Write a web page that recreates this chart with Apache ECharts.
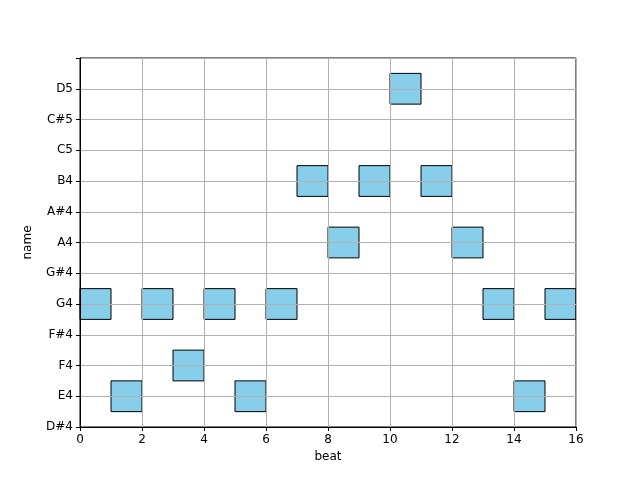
<!DOCTYPE html>
<html><head><meta charset="utf-8">
<script src="https://cdn.jsdelivr.net/npm/echarts@6/dist/echarts.min.js"></script>
<style>html,body{margin:0;padding:0;background:#fff}#c{width:640px;height:480px}</style>
</head><body><div id="c"></div>
<script>
const pitchNames = ['D#4','E4','F4','F#4','G4','G#4','A4','A#4','B4','C5','C#5','D5'];
const beats = [0,1,2,3,4,5,6,7,8,9,10,11,12,13,14,15];
const notes = ['G4','E4','G4','F4','G4','E4','G4','B4','A4','B4','D5','B4','A4','G4','E4','G4'];
const durations = [1,1,1,1,1,1,1,1,1,1,1,1,1,1,1,1];

const data = beats.map((b,i)=>[b, pitchNames.indexOf(notes[i]), durations[i]]);
const chart = echarts.init(document.getElementById('c'));
const font = 'DejaVu Sans';
chart.setOption({
  animation:false,
  grid:{left:80,right:64,top:58,bottom:53,show:true,borderColor:'#000',borderWidth:1,z:5},
  xAxis:{type:'value',min:0,max:16,interval:2,z:5,
    name:'beat',nameLocation:'middle',nameGap:24,nameTextStyle:{color:'#000',fontSize:12,fontFamily:font},
    axisLine:{lineStyle:{color:'#000'}},axisTick:{show:true,length:4,lineStyle:{color:'#000'}},
    axisLabel:{color:'#000',fontSize:12,fontFamily:font,margin:7},
    splitLine:{show:true,lineStyle:{color:'#b0b0b0',width:1}}},
  yAxis:{type:'value',min:0,max:12,interval:1,z:5,
    name:'name',nameLocation:'middle',nameGap:46,nameRotate:90,nameTextStyle:{color:'#000',fontSize:12,fontFamily:font},
    axisLine:{show:true,lineStyle:{color:'#000'}},axisTick:{show:true,length:4,lineStyle:{color:'#000'}},
    axisLabel:{color:'#000',fontSize:12,fontFamily:font,margin:7,formatter:v=>pitchNames[v]||''},
    splitLine:{show:true,lineStyle:{color:'#b0b0b0',width:1}}},
  series:[{type:'custom',z:2,data:data,
    renderItem:(params,api)=>{
      const x=api.value(0),y=api.value(1),d=api.value(2);
      const p1=api.coord([x,y+0.5]),p2=api.coord([x+d,y-0.5]);
      return {type:'rect',shape:{x:p1[0],y:p1[1],width:p2[0]-p1[0],height:p2[1]-p1[1]},
        style:{fill:'#87CEEB',stroke:'#000',lineWidth:1}};
    }}]
});
</script></body></html>
